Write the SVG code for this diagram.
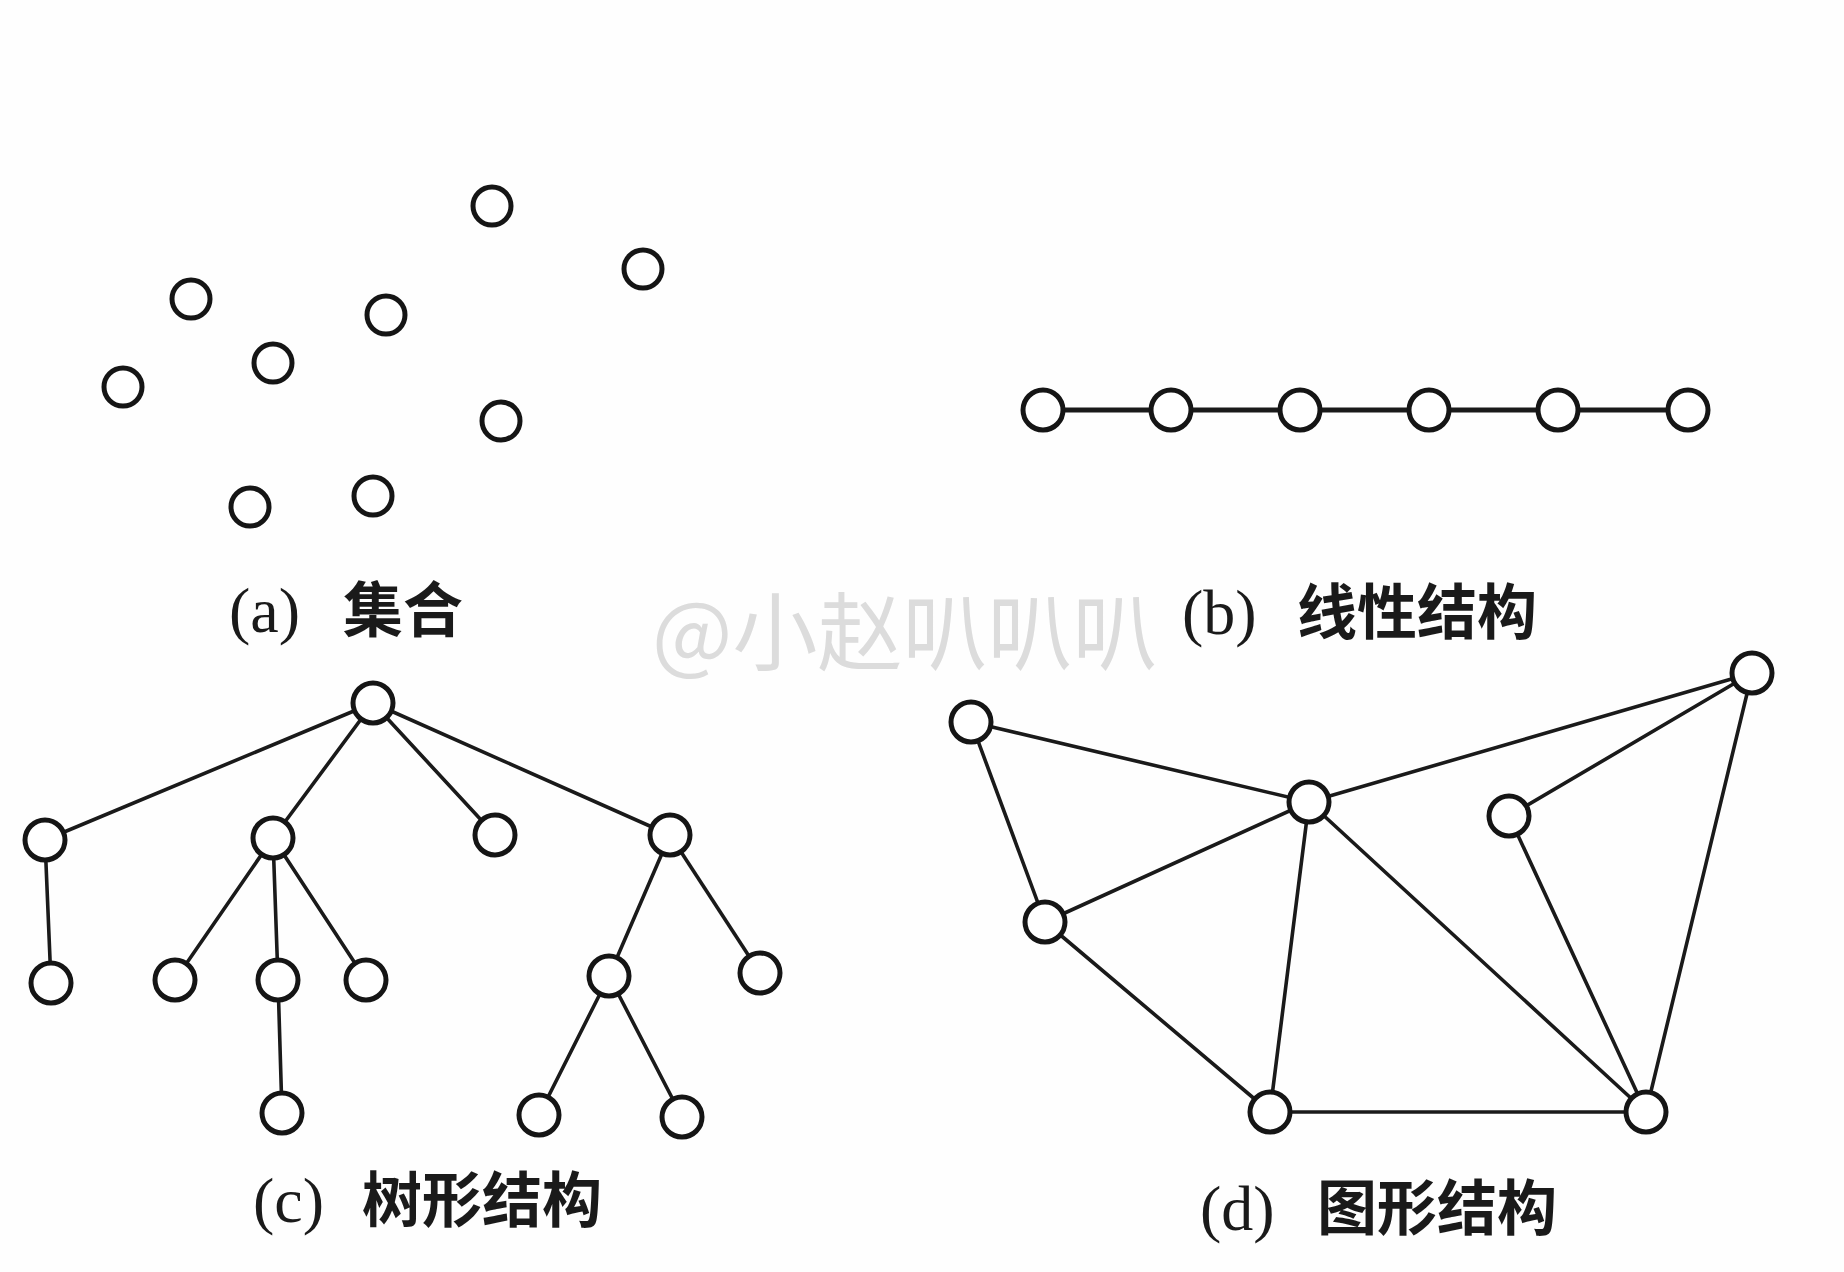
<svg xmlns="http://www.w3.org/2000/svg" width="1844" height="1272" viewBox="0 0 1844 1272">
<style>
.n{fill:#fff;stroke:#151515;stroke-width:5}
.e{stroke:#1a1a1a;stroke-width:3.6;fill:none;stroke-linecap:round}
.eb{stroke:#1a1a1a;stroke-width:5;fill:none}
.lt{font-family:"Liberation Serif",serif;font-size:64px;fill:#1a1a1a}
.cj{font-family:"Noto Sans CJK SC",sans-serif;font-weight:bold;font-size:60px;fill:#1a1a1a}
.wm{font-family:"Noto Sans CJK SC",sans-serif;font-size:85px;fill:#d4d4d4;opacity:0.8}
</style>
<rect width="1844" height="1272" fill="#fefefe"/>
<text class="wm" x="652" y="664">@小赵叭叭叭</text>
<g id="connectors">
<g id="b-edges">
<line class="eb" x1="1043" y1="410" x2="1688" y2="410"/>
</g>
<g id="c-edges">
<line class="e" x1="373" y1="703" x2="45" y2="840"/>
<line class="e" x1="373" y1="703" x2="273" y2="838"/>
<line class="e" x1="373" y1="703" x2="495" y2="835"/>
<line class="e" x1="373" y1="703" x2="670" y2="835"/>
<line class="e" x1="45" y1="840" x2="51" y2="983"/>
<line class="e" x1="273" y1="838" x2="175" y2="980"/>
<line class="e" x1="273" y1="838" x2="278" y2="980"/>
<line class="e" x1="273" y1="838" x2="366" y2="980"/>
<line class="e" x1="278" y1="980" x2="282" y2="1113"/>
<line class="e" x1="670" y1="835" x2="609" y2="976"/>
<line class="e" x1="670" y1="835" x2="760" y2="973"/>
<line class="e" x1="609" y1="976" x2="539" y2="1115"/>
<line class="e" x1="609" y1="976" x2="682" y2="1117"/>
</g>
<g id="d-edges">
<line class="e" x1="971" y1="722" x2="1309" y2="802"/>
<line class="e" x1="971" y1="722" x2="1045" y2="922"/>
<line class="e" x1="1309" y1="802" x2="1752" y2="673"/>
<line class="e" x1="1309" y1="802" x2="1045" y2="922"/>
<line class="e" x1="1309" y1="802" x2="1270" y2="1112"/>
<line class="e" x1="1309" y1="802" x2="1646" y2="1112"/>
<line class="e" x1="1752" y1="673" x2="1509" y2="816"/>
<line class="e" x1="1752" y1="673" x2="1646" y2="1112"/>
<line class="e" x1="1509" y1="816" x2="1646" y2="1112"/>
<line class="e" x1="1045" y1="922" x2="1270" y2="1112"/>
<line class="e" x1="1270" y1="1112" x2="1646" y2="1112"/>
</g>
</g>
<g id="a-nodes">
<circle id="a1" class="n" cx="492" cy="206" r="19"/>
<circle id="a2" class="n" cx="643" cy="269" r="19"/>
<circle id="a3" class="n" cx="191" cy="299" r="19"/>
<circle id="a4" class="n" cx="386" cy="315" r="19"/>
<circle id="a5" class="n" cx="273" cy="363" r="19"/>
<circle id="a6" class="n" cx="123" cy="387" r="19"/>
<circle id="a7" class="n" cx="501" cy="421" r="19"/>
<circle id="a8" class="n" cx="250" cy="507" r="19"/>
<circle id="a9" class="n" cx="373" cy="496" r="19"/>
</g>
<g id="b-nodes">
<circle id="b1" class="n" cx="1043" cy="410" r="20"/>
<circle id="b2" class="n" cx="1171" cy="410" r="20"/>
<circle id="b3" class="n" cx="1300" cy="410" r="20"/>
<circle id="b4" class="n" cx="1429" cy="410" r="20"/>
<circle id="b5" class="n" cx="1558" cy="410" r="20"/>
<circle id="b6" class="n" cx="1688" cy="410" r="20"/>
</g>
<g id="c-nodes">
<circle id="c0" class="n" cx="373" cy="703" r="20"/>
<circle id="c1" class="n" cx="45" cy="840" r="20"/>
<circle id="c2" class="n" cx="273" cy="838" r="20"/>
<circle id="c3" class="n" cx="495" cy="835" r="20"/>
<circle id="c4" class="n" cx="670" cy="835" r="20"/>
<circle id="c5" class="n" cx="51" cy="983" r="20"/>
<circle id="c6" class="n" cx="175" cy="980" r="20"/>
<circle id="c7" class="n" cx="278" cy="980" r="20"/>
<circle id="c8" class="n" cx="366" cy="980" r="20"/>
<circle id="c9" class="n" cx="609" cy="976" r="20"/>
<circle id="c10" class="n" cx="760" cy="973" r="20"/>
<circle id="c11" class="n" cx="282" cy="1113" r="20"/>
<circle id="c12" class="n" cx="539" cy="1115" r="20"/>
<circle id="c13" class="n" cx="682" cy="1117" r="20"/>
</g>
<g id="d-nodes">
<circle id="dA" class="n" cx="971" cy="722" r="20"/>
<circle id="dB" class="n" cx="1309" cy="802" r="20"/>
<circle id="dC" class="n" cx="1752" cy="673" r="20"/>
<circle id="dD" class="n" cx="1509" cy="816" r="20"/>
<circle id="dE" class="n" cx="1045" cy="922" r="20"/>
<circle id="dF" class="n" cx="1270" cy="1112" r="20"/>
<circle id="dG" class="n" cx="1646" cy="1112" r="20"/>
</g>
<g id="labels">
<text x="229" y="632"><tspan class="lt">(a)</tspan><tspan class="cj" x="343">集合</tspan></text>
<text x="1182" y="634"><tspan class="lt">(b)</tspan><tspan class="cj" x="1297">线性结构</tspan></text>
<text x="253" y="1222"><tspan class="lt">(c)</tspan><tspan class="cj" x="362">树形结构</tspan></text>
<text x="1200" y="1230"><tspan class="lt">(d)</tspan><tspan class="cj" x="1317">图形结构</tspan></text>
</g>
</svg>
